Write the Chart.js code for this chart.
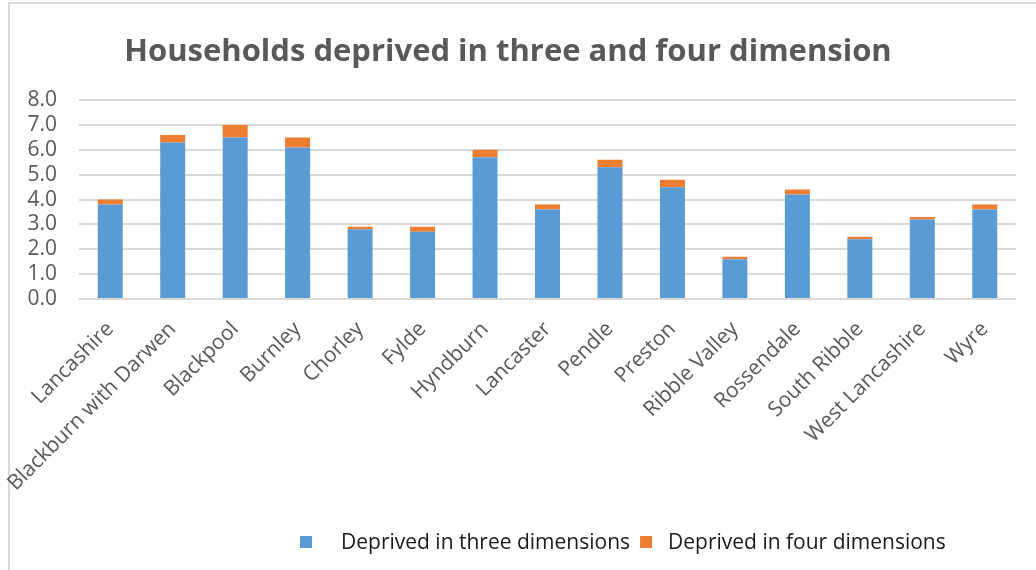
<!DOCTYPE html>
<html>
<head>
<meta charset="utf-8">
<title>Households deprived</title>
<script src="https://cdn.jsdelivr.net/npm/chart.js@4"></script>
<style>
    html, body { margin: 0; padding: 0; background: #ffffff; }
    #wrap { width: 1036px; height: 570px; position: relative; }
</style>
</head>
<body>
<div id="wrap"><canvas id="chart"></canvas></div>
<script>
// Chart data
const areas = ['Lancashire', 'Blackburn with Darwen', 'Blackpool', 'Burnley', 'Chorley', 'Fylde',
    'Hyndburn', 'Lancaster', 'Pendle', 'Preston', 'Ribble Valley', 'Rossendale',
    'South Ribble', 'West Lancashire', 'Wyre'];
const threeDims = [3.8, 6.3, 6.5, 6.1, 2.8, 2.7, 5.7, 3.6, 5.3, 4.5, 1.6, 4.2, 2.4, 3.2, 3.6];
const fourDims = [0.2, 0.3, 0.5, 0.4, 0.1, 0.2, 0.3, 0.2, 0.3, 0.3, 0.1, 0.2, 0.1, 0.1, 0.2];
const seriesNames = ['Deprived in three dimensions', 'Deprived in four dimensions'];
const titleText = 'Households deprived in three and four dimension';

const grey = '#595959';
const colours = ['#5b9bd5', '#ed7d31'];

// light frame round the chart, like the Excel chart area
const framePlugin = {
    id: 'frame',
    beforeDraw(chart) {
        const ctx = chart.ctx;
        ctx.save();
        ctx.fillStyle = '#ffffff';
        ctx.fillRect(0, 0, chart.width, chart.height);
        ctx.strokeStyle = '#d9d9d9';
        ctx.lineWidth = 2;
        ctx.strokeRect(9, 3, chart.width + 50, chart.height + 50);
        ctx.restore();
    }
};

// Excel style legend: wide gap between swatch and text, sits right of centre
const legendPlugin = {
    id: 'xlLegend',
    afterDraw(chart) {
        const ctx = chart.ctx;
        const gaps = [41, 28];
        ctx.save();
        ctx.font = '21px "Open Sans"';
        ctx.textBaseline = 'middle';
        let x = 300;
        const y = 543;
        chart.data.datasets.forEach((ds, i) => {
            ctx.fillStyle = ds.backgroundColor;
            ctx.fillRect(x, y - 7, 12, 12);
            ctx.fillStyle = '#1a1a1a';
            ctx.fillText(ds.label, x + gaps[i], y);
            x += gaps[i] + ctx.measureText(ds.label).width + 10;
        });
        ctx.restore();
    }
};

const ctx = document.getElementById('chart').getContext('2d');
new Chart(ctx, {
    type: 'bar',
    data: {
        labels: areas,
        datasets: [{
            label: seriesNames[0],
            data: threeDims,
            backgroundColor: colours[0],
            borderWidth: 0
        }, {
            label: seriesNames[1],
            data: fourDims,
            backgroundColor: colours[1],
            borderWidth: 0
        }]
    },
    options: {
        responsive: true,
        maintainAspectRatio: false,
        animation: false,
        categoryPercentage: 1,
        barPercentage: 0.4,
        layout: {
            padding: { left: 0, right: 20, top: 34, bottom: 64 }
        },
        plugins: {
            title: {
                display: true,
                text: titleText,
                color: grey,
                font: { family: 'Open Sans', size: 31, weight: 'bold' },
                padding: { top: 0, bottom: 29 }
            },
            legend: { display: false },
            tooltip: { enabled: false }
        },
        scales: {
            x: {
                stacked: true,
                grid: { display: false },
                border: { display: false },
                ticks: {
                    color: grey,
                    font: { family: 'Open Sans', size: 21 },
                    minRotation: 45,
                    maxRotation: 45,
                    autoSkip: false,
                    padding: 10
                }
            },
            y: {
                stacked: true,
                min: 0,
                max: 8,
                border: { display: false },
                grid: { color: '#d9d9d9', lineWidth: 2, drawTicks: false },
                ticks: {
                    stepSize: 1,
                    autoSkip: false,
                    color: grey,
                    font: { family: 'Open Sans', size: 21 },
                    padding: 22,
                    callback: v => Number(v).toFixed(1)
                },
                afterFit(scale) {
                    scale.width = 79;
                }
            }
        }
    },
    plugins: [framePlugin, legendPlugin]
});
</script>
</body>
</html>
